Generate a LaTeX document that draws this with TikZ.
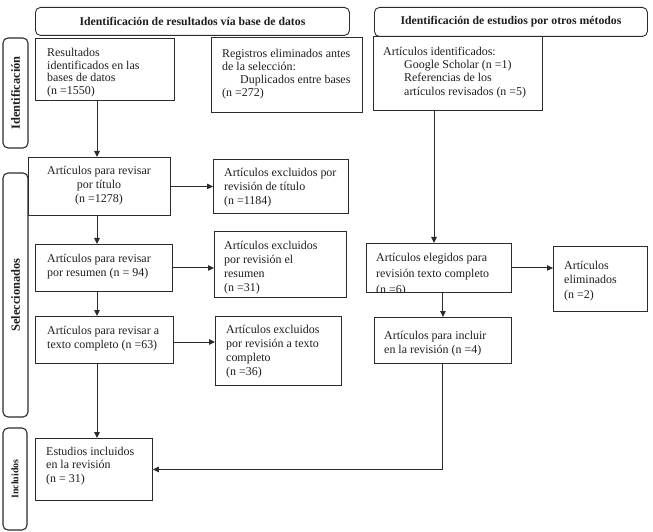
\documentclass[tikz,border=0pt]{standalone}
\usepackage{fontspec}
\setmainfont{Liberation Serif}
\usetikzlibrary{arrows.meta}
\definecolor{ln}{HTML}{2B2B2B}
\definecolor{tx}{HTML}{1E1E1E}
\begin{document}
\begin{tikzpicture}[x=1bp,y=-1bp,
  bx/.style={draw=ln,line width=0.9bp,rectangle,inner sep=0,anchor=north west},
  hdr/.style={draw=ln,line width=0.9bp,rounded corners=5bp,inner sep=0,anchor=north west,
    font=\fontsize{11.8}{13}\selectfont\bfseries,text=tx},
  side/.style={draw=ln,line width=1.1bp,rounded corners=5bp,inner sep=0,rotate=90,text=tx},
  txt/.style={inner sep=0,anchor=north west,align=left,text=tx,font=\fontsize{12}{14}\selectfont},
  txtc/.style={inner sep=0,anchor=north,align=center,text=tx,font=\fontsize{12}{14}\selectfont},
  arr/.style={draw=ln,line width=1bp,-{Triangle[length=6bp,width=5.5bp]}}]
\useasboundingbox (0,0) rectangle (653,532);

% headers
\node[hdr,minimum width=314bp,minimum height=28bp] (h1) at (35,7) {Identificación de resultados vía base de datos};
\node[hdr,minimum width=273bp,minimum height=29bp] (h2) at (374,7) {Identificación de estudios por otros métodos};

% side labels
\node[side,minimum width=110bp,minimum height=25bp,font=\fontsize{12.5}{14}\selectfont\bfseries] (sI) at (15.5,93) {Identificación};
\node[side,minimum width=244bp,minimum height=25bp,font=\fontsize{12.5}{14}\selectfont\bfseries] (sS) at (15.5,295) {Seleccionados};
\node[side,minimum width=102bp,minimum height=24bp,font=\fontsize{10}{12}\selectfont\bfseries] (sC) at (15,479) {Incluidos};

% boxes
\node[bx,minimum width=139bp,minimum height=62bp] (res) at (35,38) {};
\node[bx,minimum width=151bp,minimum height=75bp] (reg) at (211,37) {};
\node[bx,minimum width=169bp,minimum height=74bp] (ide) at (373,36) {};
\node[bx,minimum width=142bp,minimum height=58bp] (tit) at (28,157) {};
\node[bx,minimum width=135bp,minimum height=54bp] (extit) at (213,159) {};
\node[bx,minimum width=137bp,minimum height=47bp] (resu) at (35,244) {};
\node[bx,minimum width=132bp,minimum height=66bp] (exres) at (214,231) {};
\node[bx,minimum width=138bp,minimum height=47bp] (tex) at (35,316) {};
\node[bx,minimum width=126bp,minimum height=69bp] (extex) at (215,316) {};
\node[bx,minimum width=145bp,minimum height=49bp] (ele) at (366,243) {};
\node[bx,minimum width=94bp,minimum height=65bp] (elim) at (553,246) {};
\node[bx,minimum width=137bp,minimum height=46bp] (inc) at (374,317) {};
\node[bx,minimum width=117bp,minimum height=62bp] (est) at (35,438) {};

% texts
\node[txt,font=\fontsize{12}{12.8}\selectfont] (resT) at (47,48) {Resultados\\identificados en las\\bases de datos\\(n =1550)};
\node[txt,font=\fontsize{12}{13}\selectfont] (regT) at (222,49) {Registros eliminados antes\\de la selección:\\\hspace*{18bp}Duplicados entre bases\\(n =272)};
\node[txt,font=\fontsize{12}{13.2}\selectfont] (ideT) at (383,47) {Artículos identificados:\\\hspace*{21bp}Google Scholar (n =1)\\\hspace*{21bp}Referencias de los\\\hspace*{21bp}artículos revisados (n =5)};
\node[txtc] (titT) at (99,166) {Artículos para revisar\\por título\\(n =1278)};
\node[txt] (extitT) at (224,168) {Artículos excluidos por\\revisión de título\\(n =1184)};
\node[txt] (resuT) at (47,254) {Artículos para revisar\\por resumen (n = 94)};
\node[txt] (exresT) at (224,241) {Artículos excluidos\\por revisión el\\resumen\\(n =31)};
\node[txt] (texT) at (47,326) {Artículos para revisar a\\texto completo (n =63)};
\node[txt] (extexT) at (226,325) {Artículos excluidos\\por revisión a texto\\completo\\(n =36)};
\node[txt,font=\fontsize{12}{16}\selectfont] (eleT) at (376,253) {Artículos elegidos para\\revisión texto completo\\(n =6)};
\fill[white] (370,292.5) rectangle (430,304);
\node[txt,font=\fontsize{12}{14.5}\selectfont] (elimT) at (564,261) {Artículos\\eliminados\\(n =2)};
\node[txt] (incT) at (384,331) {Artículos para incluir\\en la revisión (n =4)};
\node[txt,font=\fontsize{12}{13.5}\selectfont] (estT) at (46,447) {Estudios incluidos\\en la revisión\\(n = 31)};

% helper coordinates
\coordinate (cA) at (97,0);
\coordinate (cB) at (434,0);
\coordinate (r3) at (0,342);

% connectors
\draw[arr] (res.south -| cA) -- (tit.north -| cA);
\draw[arr] (tit.south -| cA) -- (resu.north -| cA);
\draw[arr] (resu.south -| cA) -- (tex.north -| cA);
\draw[arr] (tex.south -| cA) -- (est.north -| cA);
\draw[arr] (tit.east) -- (extit.west |- tit.east);
\draw[arr] (resu.east) -- (exres.west |- resu.east);
\draw[arr] (tex.east |- r3) -- (extex.west |- r3);
\draw[arr] (ide.south -| cB) -- (ele.north -| cB);
\draw[arr] (ele.east) -- (elim.west |- ele.east);
\draw[arr] (ele.south -| inc.north) -- (inc.north);
\draw[arr] (inc.south) |- (est.east);
\end{tikzpicture}
\end{document}
